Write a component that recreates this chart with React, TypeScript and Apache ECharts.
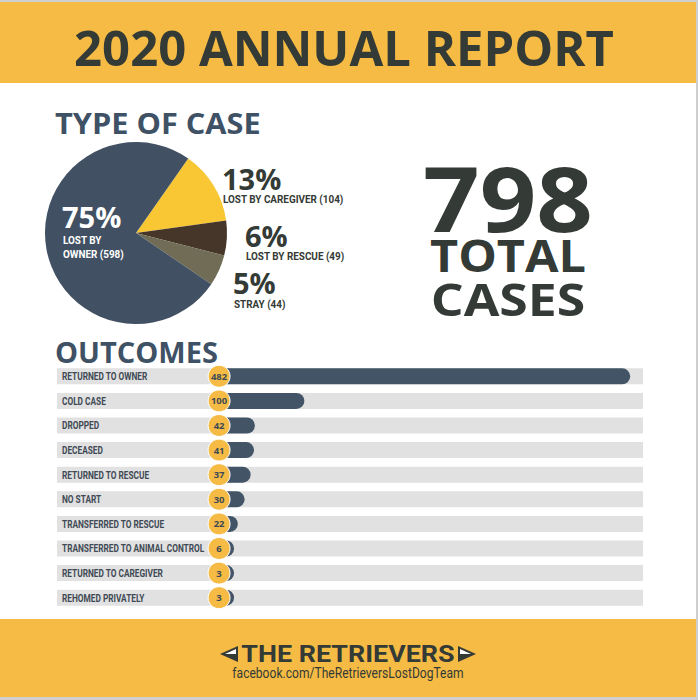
import React, { useEffect, useRef } from "react";
import * as echarts from "echarts";

const caseNames = ["LOST BY CAREGIVER", "LOST BY RESCUE", "STRAY", "LOST BY\nOWNER"];
const caseValues = [104, 49, 44, 598];
const caseColors = ["#F8C733", "#46362A", "#706C56", "#415163"];
const totalCases = 798;

const outcomeLabels = [
  "RETURNED TO OWNER",
  "COLD CASE",
  "DROPPED",
  "DECEASED",
  "RETURNED TO RESCUE",
  "NO START",
  "TRANSFERRED TO RESCUE",
  "TRANSFERRED TO ANIMAL CONTROL",
  "RETURNED TO CAREGIVER",
  "REHOMED PRIVATELY",
];
const outcomeValues = [482, 100, 42, 41, 37, 30, 22, 6, 3, 3];

const YELLOW = "#F5BB45";
const DARK = "#343A35";
const SLATE = "#3F5265";
const HEAD = '"Open Sans", "DejaVu Sans", sans-serif';
const COND = 'Roboto, "Noto Sans", sans-serif';
const NARROW = 0.79;

// [x, percent cap-center y, name center y]
const labelPos: number[][] = [
  [222, 178, 199],
  [245, 235, 256],
  [233, 282.5, 304],
  [62, 216.5, 247],
];

export default function App() {
  const ref = useRef<HTMLDivElement>(null);
  useEffect(() => {
    if (!ref.current) return;
    const chart = echarts.init(ref.current, null, { renderer: "svg" });
    const sum = caseValues.reduce((a, b) => a + b, 0);

    const pieLabels: any[] = [];
    caseValues.forEach((v, i) => {
      const color = i === 3 ? "#ffffff" : DARK;
      pieLabels.push({
        type: "text", x: labelPos[i][0], y: labelPos[i][1], z: 20,
        style: {
          text: `${Math.floor((v / sum) * 100)}%`, fill: color,
          font: `bold 29px ${HEAD}`, align: "left", verticalAlign: "middle",
        },
      });
      pieLabels.push({
        type: "text", x: labelPos[i][0] + 1, y: labelPos[i][2], z: 20, scaleX: 0.9,
        style: {
          text: `${caseNames[i]} (${v})`, fill: color, lineHeight: 14,
          font: `bold 11px ${COND}`, align: "left", verticalAlign: "middle",
        },
      });
    });

    const option: any = {
      animation: false,
      backgroundColor: "#ffffff",
      graphic: [
        { type: "rect", shape: { x: 0, y: 0, width: 698, height: 2 }, style: { fill: "#cfcfcf" }, z: -10 },
        { type: "rect", shape: { x: 0, y: 2, width: 698, height: 81 }, style: { fill: YELLOW }, z: -10 },
        { type: "rect", shape: { x: 0, y: 619, width: 698, height: 78 }, style: { fill: YELLOW }, z: -10 },
        { type: "rect", shape: { x: 0, y: 697, width: 698, height: 3 }, style: { fill: "#cfcfcf" }, z: -10 },
        { type: "rect", shape: { x: 696, y: 0, width: 2, height: 700 }, style: { fill: "#cfcfcf" }, z: -10 },
        {
          type: "text", x: 344, y: 46.5, z: 10,
          style: { text: "2020 ANNUAL REPORT", fill: DARK, font: `bold 49px ${HEAD}`, align: "center", verticalAlign: "middle" },
        },
        {
          type: "text", x: 55, y: 123, z: 10, scaleX: 1.06,
          style: { text: "TYPE OF CASE", fill: SLATE, font: `bold 29px ${HEAD}`, align: "left", verticalAlign: "middle" },
        },
        {
          type: "text", x: 55, y: 351, z: 10,
          style: { text: "OUTCOMES", fill: SLATE, font: `bold 29px ${HEAD}`, align: "left", verticalAlign: "middle" },
        },
        {
          type: "text", x: 508, y: 197, z: 10, scaleX: 1.1,
          style: { text: String(totalCases), fill: DARK, font: `bold 90px ${HEAD}`, align: "center", verticalAlign: "middle" },
        },
        {
          type: "text", x: 508, y: 255, z: 10, scaleX: 1.08,
          style: { text: "TOTAL", fill: DARK, font: `bold 45px ${HEAD}`, align: "center", verticalAlign: "middle" },
        },
        {
          type: "text", x: 508, y: 298.5, z: 10, scaleX: 1.15,
          style: { text: "CASES", fill: DARK, font: `bold 45px ${HEAD}`, align: "center", verticalAlign: "middle" },
        },
        {
          type: "polygon", z: 10,
          shape: { points: [[238, 646], [220, 654], [238, 662]] }, style: { fill: DARK },
        },
        {
          type: "polygon", z: 11,
          shape: { points: [[236, 649], [225, 654], [236, 654]] }, style: { fill: "#ffffff" },
        },
        {
          type: "polygon", z: 10,
          shape: { points: [[458, 646], [476, 654], [458, 662]] }, style: { fill: DARK },
        },
        {
          type: "polygon", z: 11,
          shape: { points: [[460, 649], [471, 654], [460, 654]] }, style: { fill: "#ffffff" },
        },
        {
          type: "text", x: 348, y: 654, z: 10, scaleX: 1.12,
          style: { text: "THE RETRIEVERS", fill: DARK, font: `bold 24px ${COND}`, align: "center", verticalAlign: "middle" },
        },
        {
          type: "text", x: 348, y: 672, z: 10, scaleX: 0.805,
          style: { text: "facebook.com/TheRetrieversLostDogTeam", fill: DARK, font: `15px ${COND}`, align: "center", verticalAlign: "middle" },
        },
        ...pieLabels,
      ],
      grid: { left: 57, right: 55, top: 364, height: 246, containLabel: false },
      xAxis: {
        type: "value", min: -190, max: 497,
        show: false,
      },
      yAxis: {
        type: "category",
        data: outcomeLabels,
        inverse: true,
        axisLine: { show: false },
        axisTick: { show: false },
        axisLabel: { show: false },
      },
      series: [
        {
          type: "pie",
          center: [136, 233],
          radius: 91,
          startAngle: 55,
          clockwise: true,
          silent: true,
          label: { show: false },
          labelLine: { show: false },
          data: caseValues.map((v, i) => ({
            value: v,
            name: caseNames[i],
            itemStyle: { color: caseColors[i] },
          })),
        },
        {
          type: "bar",
          data: outcomeValues,
          barWidth: 16,
          barMinHeight: 15,
          z: 2,
          showBackground: true,
          backgroundStyle: { color: "#E1E1E1" },
          itemStyle: { color: "#425466", borderRadius: [0, 8, 8, 0] },
          silent: true,
        },
        {
          type: "custom",
          z: 5,
          silent: true,
          data: outcomeLabels.map((n, i) => ({ value: [0, i], name: n })),
          renderItem: (params: any, api: any) => {
            const i = params.dataIndex;
            const pt = api.coord([0, i]);
            return {
              type: "text",
              x: params.coordSys.x + 5,
              y: pt[1],
              scaleX: NARROW,
              style: {
                text: outcomeLabels[i],
                fill: "#3F4A55",
                font: `bold 10.5px ${COND}`,
                align: "left",
                verticalAlign: "middle",
              },
            };
          },
        },
        {
          type: "scatter",
          data: outcomeValues.map((v, i) => [0, i]),
          symbolSize: 22,
          z: 6,
          silent: true,
          itemStyle: { color: YELLOW, borderColor: "#ffffff", borderWidth: 1, opacity: 1 },
          label: {
            show: true,
            position: "inside",
            formatter: (p: any) => String(outcomeValues[p.dataIndex]),
            color: "#3F4A55",
            fontFamily: HEAD,
            fontWeight: "bold",
            fontSize: 9.5,
          },
        },
      ],
    };
    chart.setOption(option);
    return () => chart.dispose();
  }, []);
  return (
    <div
      ref={ref}
      style={{ position: "absolute", left: 0, top: 0, width: 698, height: 700 }}
    />
  );
}
